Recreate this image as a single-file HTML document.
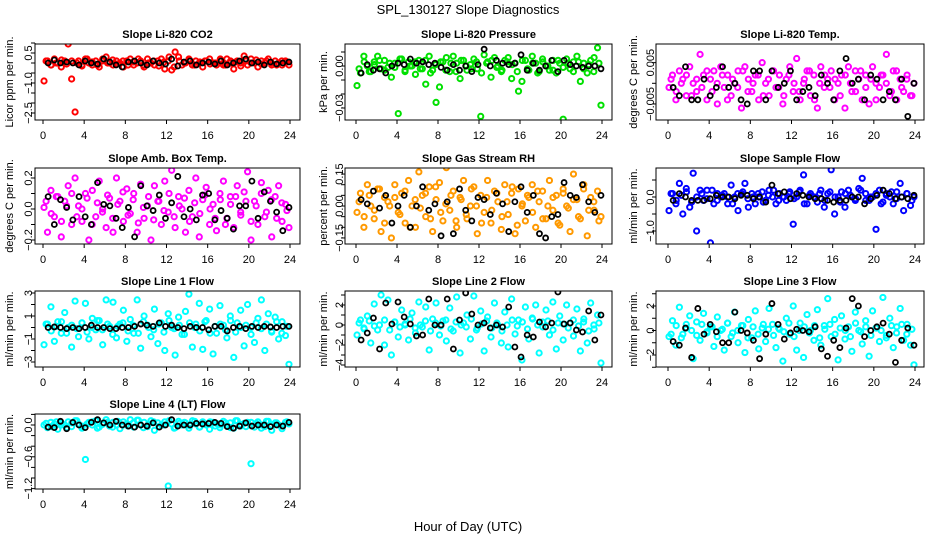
<!DOCTYPE html>
<html><head><meta charset="utf-8">
<style>
html,body{margin:0;padding:0;background:#fff;}
svg{display:block;font-family:"Liberation Sans",sans-serif;}
</style></head>
<body>
<svg id="chart" width="936" height="540" viewBox="0 0 936 540">
<rect x="0" y="0" width="936" height="540" fill="#fff"/>
<text x="468" y="14" text-anchor="middle" font-size="13">SPL_130127  Slope Diagnostics</text>
<text x="468" y="531" text-anchor="middle" font-size="13">Hour of Day (UTC)</text>
</svg>
<script>
// ---- data: hours and series values per panel ----
const hourTicks = [0,4,8,12,16,20,24];
const co2Color = [-0.9,0.1,-0.1,0.2,0.0,-0.2,0.1,0.95,-0.8,-2.45,0.1,-0.1,0.2,0.0,-0.1,0.1,-0.2,0.2,0.3,0.0,-0.1,0.1,0.0,-0.2,0.1,0.2,-0.1,0.0,0.1,-0.2,0.2,0.0,-0.1,0.1,0.2,-0.3,0.1,-0.35,0.55,0.3,-0.1,0.0,0.2,-0.1,0.1,0.0,-0.2,0.1,0.2,0.0,-0.1,0.1,-0.1,0.2,0.0,-0.3,0.1,0.0,0.35,-0.1,0.2,0.0,-0.2,0.1,0.0,0.2,-0.1,0.1,0.0,-0.1,0.1,-0.1];
const co2Band = [0.1,-0.1,0.0,0.15,-0.05,0.1,0.0,-0.15,0.2,0.05,-0.1,0.1,0.0,0.15,-0.05,0.1,-0.1,0.05,0.2,-0.1,0.0,0.1,-0.15,0.05,0.3,-0.2,0.1,0.0,0.15,-0.1,0.05,0.1,-0.05,0.0,0.2,-0.1,0.1,0.05,-0.15,0.1,0.0,0.15,-0.05,0.1,0.0,-0.1,0.1,0.05];
const co2Black = [0.0,0.15,0.0,0.05,0.0,-0.1,0.1,0.0,-0.05,0.2,0.05,-0.1,-0.2,0.05,0.1,0.0,-0.1,0.1,0.0,-0.05,0.2,-0.15,0.05,0.1,-0.1,0.0,0.05,-0.05,0.1,-0.1,0.0,0.1,0.2,0.0,0.05,-0.1,0.05,-0.05,0.0,0.05];
const presColor = [-0.014,-0.005,0.007,0.0,-0.004,0.003,0.007,-0.002,0.004,-0.001,-0.008,0.002,-0.034,0.005,-0.003,0.003,0.0,-0.006,0.004,-0.002,-0.013,0.007,-0.003,-0.026,-0.015,0.003,0.006,-0.004,0.007,0.002,-0.009,0.004,-0.003,0.001,0.005,-0.002,-0.036,0.008,0.003,-0.008,0.006,0.0,-0.004,0.004,0.006,-0.009,0.002,-0.018,-0.011,0.004,-0.003,0.007,0.002,-0.004,0.005,0.0,-0.003,0.004,-0.005,0.002,-0.038,0.005,-0.002,0.003,0.007,-0.011,0.002,-0.005,0.004,0.006,0.013,-0.028];
const presBand = [-0.002,0.003,-0.004,0.001,0.004,-0.003,0.002,-0.001,0.005,-0.004,0.0,0.003,-0.002,0.004,-0.005,0.001,0.003,-0.003,0.002,-0.004,0.004,0.0,-0.002,0.003,-0.005,0.002,0.004,-0.001,-0.003,0.003,0.001,-0.004,0.004,-0.002,0.002,-0.005,0.003,0.0,-0.003,0.004,-0.001,0.002,-0.004,0.003,-0.002,0.001,-0.004,0.002];
const presBlack = [-0.005,0.001,-0.003,-0.002,-0.005,0.0,0.002,0.001,0.005,0.002,0.003,0.001,0.002,-0.001,-0.003,0.001,-0.003,0.0,-0.004,0.001,0.012,0.0,0.004,0.002,0.001,0.002,0.008,-0.003,0.002,-0.003,0.0,0.004,-0.004,0.004,0.001,0.0,-0.001,0.0,0.0,-0.002];
const liTempColor = [-0.001,0.002,-0.004,0.003,0.001,-0.003,0.004,0.0,-0.002,0.007,0.002,-0.004,0.001,0.003,-0.005,0.004,-0.001,0.002,-0.003,0.0,0.003,-0.006,0.004,0.001,-0.002,0.002,-0.004,0.005,0.0,-0.003,0.003,-0.001,0.002,-0.005,0.001,0.004,-0.002,0.006,-0.004,0.0,0.003,-0.003,0.002,-0.006,0.004,-0.001,0.001,0.003,-0.004,0.0,0.002,-0.006,0.004,-0.002,0.003,0.001,-0.004,0.002,-0.005,0.004,0.0,-0.001,0.002,0.007,-0.003,0.003,-0.004,0.001,-0.002,0.002,-0.003,0.0];
const liTempBand = [0.001,-0.002,0.0,0.002,-0.003,0.001,-0.001,0.003,-0.002,0.0,0.002,-0.004,0.001,-0.001,0.003,-0.002,0.0,0.002,-0.003,0.001,0.003,-0.001,-0.003,0.002,0.0,-0.002,0.001,0.003,-0.004,0.0,0.002,-0.001,0.001,-0.003,0.002,0.0,-0.002,0.003,-0.001,0.001,-0.004,0.002,0.0,-0.002,0.003,-0.001,0.001,-0.003];
const liTempBlack = [-0.001,-0.003,0.004,-0.004,-0.004,0.001,-0.003,-0.001,0.004,-0.001,0.0,-0.004,-0.005,0.003,0.003,-0.004,0.003,-0.001,0.0,0.003,-0.004,-0.002,-0.001,-0.003,0.002,0.0,-0.004,0.003,0.006,0.0,0.001,-0.004,0.002,0.001,-0.004,-0.002,-0.004,0.001,-0.008,0.0];
const boxTempColor = [0.01,-0.15,0.12,-0.05,0.08,-0.18,0.05,0.15,-0.1,0.2,0.02,-0.08,0.1,-0.2,0.12,-0.05,0.18,0.0,-0.12,0.07,-0.15,0.2,0.05,-0.08,0.13,-0.03,0.1,-0.15,0.16,-0.06,0.02,-0.2,0.15,0.05,-0.1,0.18,-0.02,0.25,-0.12,0.08,0.0,-0.15,0.12,-0.05,0.2,-0.18,0.06,0.14,-0.1,0.03,-0.14,0.1,0.18,-0.06,0.08,-0.12,0.15,-0.02,0.11,0.24,-0.2,0.05,-0.1,0.17,-0.05,0.12,-0.18,0.08,0.15,-0.08,0.03,-0.12];
const boxTempBand = [0.05,-0.03,0.08,-0.08,0.02,0.1,-0.05,0.0,0.07,-0.1,0.04,-0.02,0.09,-0.06,0.03,0.11,-0.04,0.06,-0.09,0.01,0.08,-0.07,0.05,-0.01,0.1,-0.05,0.02,0.07,-0.08,0.04,-0.03,0.09,0.0,-0.06,0.06,-0.1,0.03,0.08,-0.04,0.05,-0.08,0.02,0.1,-0.02,0.06,-0.06,0.04,-0.01];
const boxTempBlack = [0.08,-0.1,0.06,0.01,-0.07,0.08,-0.05,-0.1,0.17,0.03,0.02,-0.06,-0.12,0.01,-0.18,0.15,0.02,-0.01,0.09,-0.06,0.04,0.21,-0.05,0.0,-0.07,0.09,0.1,-0.07,-0.01,-0.06,-0.13,0.02,0.02,0.18,-0.06,0.11,0.05,-0.02,-0.14,0.01];
const rhColor = [-0.03,0.06,-0.1,0.1,0.0,-0.06,0.08,-0.12,0.04,0.02,-0.15,0.1,-0.03,0.06,-0.08,0.12,0.0,-0.1,0.16,0.05,-0.05,0.09,-0.12,0.03,0.11,-0.07,0.18,-0.02,0.07,-0.1,0.04,0.12,-0.06,0.0,0.09,-0.13,0.05,-0.03,0.12,-0.08,0.07,0.02,-0.11,0.1,-0.04,0.06,-0.13,0.08,0.0,-0.07,0.04,0.1,-0.1,0.02,0.07,-0.06,0.12,-0.02,0.05,-0.09,0.08,0.0,-0.12,0.15,0.03,-0.06,0.1,-0.14,0.04,-0.02,0.07,-0.05];
const rhBand = [0.02,-0.05,0.05,-0.02,0.08,-0.08,0.0,0.04,-0.04,0.07,-0.1,0.03,-0.01,0.06,-0.06,0.09,-0.03,0.01,0.05,-0.07,0.03,-0.04,0.08,0.0,-0.08,0.04,-0.02,0.06,-0.05,0.02,0.09,-0.09,0.01,0.05,-0.03,0.07,-0.06,0.0,0.04,-0.08,0.06,-0.01,0.03,-0.05,0.08,-0.02,0.02,-0.07];
const rhBlack = [0.03,0.01,0.07,-0.01,0.05,-0.08,0.0,0.05,-0.1,0.0,0.09,-0.02,0.01,-0.14,0.02,-0.13,0.08,-0.02,-0.07,0.04,0.03,-0.04,0.06,0.01,-0.12,0.02,0.09,-0.03,0.05,-0.13,-0.15,-0.05,-0.04,0.11,0.05,0.04,0.1,0.02,-0.03,0.05];
const sampleColor = [-0.4,0.1,-0.2,0.4,-0.5,0.25,-0.3,0.7,-1.0,0.2,-0.1,0.2,-1.35,-0.2,0.1,0.0,0.1,-0.2,0.35,0.0,-0.4,0.1,0.4,-0.3,0.1,-0.2,0.0,0.15,-0.1,0.2,0.0,-0.2,0.1,0.0,-0.1,0.15,-0.8,0.0,0.2,0.65,-0.2,0.1,0.0,-0.15,0.2,-0.3,0.1,0.8,-0.5,0.0,0.15,-0.3,0.2,0.0,-0.1,0.25,0.55,0.1,-0.1,0.0,-0.95,0.2,-0.15,0.1,0.0,-0.2,0.15,0.4,-0.4,0.1,-0.25,0.0];
const sampleBand = [0.1,-0.1,0.05,0.15,-0.15,0.0,0.1,-0.05,0.2,-0.1,0.05,0.0,-0.2,0.1,0.15,-0.05,0.0,0.1,-0.15,0.05,0.2,-0.1,0.0,0.1,-0.05,0.15,-0.2,0.05,0.0,0.1,-0.1,0.15,0.0,-0.15,0.1,0.05,-0.05,0.2,-0.1,0.0,0.1,-0.2,0.05,0.15,-0.05,0.0,0.1,-0.1];
const sampleBlack = [-0.1,0.1,0.0,-0.1,-0.1,-0.1,-0.05,0.05,0.0,0.0,-0.05,0.05,0.05,-0.05,0.0,-0.15,0.35,0.1,0.15,-0.05,0.1,0.05,0.0,-0.05,-0.05,-0.1,-0.15,-0.1,-0.1,0.0,0.0,-0.2,-0.05,0.05,0.2,0.1,-0.05,0.0,-0.05,0.05];
const line1Color = [-1.5,0.3,1.8,-1.2,0.5,-0.5,1.3,0.0,-1.7,2.3,-0.8,0.4,2.1,-1.0,0.8,-0.2,0.6,-1.5,2.4,0.1,2.2,-0.9,0.3,1.5,-1.2,0.7,-0.5,2.4,-1.8,1.0,0.2,-0.8,1.6,-1.4,0.4,-2.0,1.2,0.0,-2.4,0.9,-0.6,1.4,2.9,-1.7,0.3,2.1,-1.9,0.6,1.6,-2.3,-0.5,1.9,0.2,-0.9,1.0,-2.6,0.4,1.5,-1.6,2.0,0.0,-1.3,0.8,2.4,-2.0,1.2,-0.4,0.9,-1.0,0.5,-0.7,-3.2];
const line1Band = [0.3,-0.3,0.1,0.5,-0.5,0.2,-0.1,0.4,-0.4,0.0,0.6,-0.2,0.3,-0.6,0.1,0.4,-0.3,0.2,-0.5,0.5,0.0,-0.2,0.3,-0.4,0.6,-0.1,0.2,-0.6,0.4,0.0,-0.3,0.5,-0.5,0.1,0.3,-0.2,0.6,-0.4,0.0,0.2,-0.6,0.4,-0.1,0.3,-0.3,0.5,-0.5,0.1];
const line1Black = [0.0,0.05,0.0,-0.1,0.0,-0.1,0.0,0.2,0.0,0.0,-0.1,-0.1,0.0,0.0,0.1,0.3,0.2,0.1,0.4,0.1,0.2,0.0,-0.1,0.1,0.0,0.0,-0.2,0.1,0.1,-0.3,0.0,0.1,-0.1,0.1,0.0,0.1,0.05,0.0,0.1,0.1];
const line2Color = [-1.0,0.5,-0.3,0.9,-1.8,2.1,-0.5,3.0,-2.0,2.5,-3.0,0.3,-1.2,1.5,0.0,-1.5,1.2,-0.8,2.3,-0.2,1.8,-2.5,0.6,2.2,-1.0,0.4,-1.6,1.7,-0.6,2.8,-2.8,0.2,1.0,-1.4,2.9,-0.3,1.4,-2.6,0.8,-1.2,2.2,0.0,-1.8,1.3,-2.2,2.6,-0.9,0.5,-3.5,1.8,-1.4,0.7,2.0,-2.8,0.3,1.5,-1.0,2.3,-2.4,0.9,-1.5,2.0,0.2,-1.1,1.6,-2.6,0.6,-1.8,2.2,-0.4,1.0,-3.8];
const line2Band = [0.2,-0.4,0.4,-0.1,0.0,0.5,-0.5,0.3,-0.2,0.1,0.6,-0.3,0.0,0.4,-0.6,0.2,-0.1,0.5,-0.4,0.3,0.0,-0.2,0.6,-0.5,0.1,0.4,-0.3,0.2,-0.6,0.0,0.5,-0.1,0.3,-0.4,0.6,0.0,-0.2,0.4,-0.5,0.2,0.1,-0.3,0.5,-0.1,0.3,-0.6,0.0,0.2];
const line2Black = [-1.5,-0.8,0.7,-2.4,2.2,0.1,2.3,0.8,0.1,-1.1,-1.0,2.6,0.0,0.0,2.6,-2.4,0.5,3.2,1.1,0.0,0.2,-0.3,0.0,-0.2,1.8,-2.2,-3.2,-1.0,-1.2,0.3,-0.2,0.2,3.3,0.1,0.2,-0.5,-0.7,1.4,-1.5,1.0];
const line3Color = [-0.5,0.8,-1.2,1.9,-0.3,0.5,1.2,-2.3,0.7,-0.8,1.4,-0.2,0.3,-1.3,1.1,0.0,-1.6,0.6,-0.5,1.5,-1.0,0.4,-1.8,0.9,-0.6,1.6,-1.5,0.2,-0.9,1.8,0.5,-1.4,0.1,-2.5,1.0,-0.3,2.0,-1.6,0.6,-2.2,1.3,0.0,-0.8,1.7,-1.2,0.4,2.6,-0.5,0.9,-2.4,1.2,-0.7,0.3,-1.7,1.5,0.0,-1.1,0.8,-2.1,1.6,0.2,-0.9,2.7,-0.4,1.0,-1.4,0.3,1.8,-0.8,0.5,-1.2,-2.8];
const line3Band = [-0.3,0.4,-0.6,0.2,0.0,-0.4,0.5,-0.1,0.3,-0.5,0.1,0.6,-0.2,0.0,0.4,-0.6,0.3,-0.3,0.5,0.1,-0.4,0.2,-0.1,0.6,-0.5,0.0,0.3,-0.2,0.4,-0.6,0.1,0.5,-0.3,0.2,0.0,-0.5,0.6,-0.1,0.3,-0.4,0.2,0.0,-0.6,0.4,-0.2,0.5,-0.3,0.1];
const line3Black = [-0.9,-1.2,0.2,-2.2,1.8,-0.3,0.5,-0.1,-1.0,-1.0,1.5,0.0,-0.2,-0.8,-2.3,-0.3,2.2,0.5,-0.7,-0.2,0.1,0.0,-0.1,0.3,-1.5,-2.1,-0.8,-1.4,0.2,2.6,2.0,-0.5,0.0,0.3,0.6,-0.3,-2.6,-0.8,0.2,-1.2];
const line4Color = [0.0,-0.05,0.05,0.02,-0.08,0.04,0.0,0.06,-0.03,0.08,0.02,-0.06,-0.65,0.05,0.0,0.08,-0.04,0.03,0.1,-0.02,0.05,0.0,-0.07,0.06,0.02,0.1,-0.04,0.09,0.0,0.05,-0.03,0.08,-0.1,0.04,0.0,0.06,-1.15,0.02,-0.05,0.07,0.0,0.04,-0.06,0.08,0.02,-0.04,0.06,0.0,-0.08,0.05,0.03,-0.05,0.07,0.0,0.04,-0.06,0.08,-0.02,0.03,0.05,-0.73,-0.04,0.06,0.0,-0.03,0.07,-0.1,0.04,0.0,-0.07,0.05,0.02];
const line4Band = [0.03,-0.03,0.06,0.0,-0.05,0.04,0.08,-0.02,0.02,0.06,-0.06,0.01,0.05,-0.04,0.07,0.0,-0.02,0.04,0.09,-0.05,0.02,0.06,-0.03,0.0,0.08,-0.06,0.03,0.05,-0.01,0.07,-0.04,0.02,0.06,-0.02,0.0,0.04,-0.05,0.08,0.01,-0.03,0.05,0.03,-0.06,0.07,0.0,0.04,-0.02,0.06];
const line4Black = [-0.04,-0.05,0.07,-0.07,0.05,0.0,-0.05,0.05,0.1,0.04,0.0,0.07,0.0,-0.02,-0.04,0.0,-0.02,0.04,-0.04,0.0,0.1,-0.02,0.0,0.0,0.03,0.02,0.03,0.05,0.03,-0.03,-0.06,-0.02,0.04,-0.02,0.0,0.0,-0.03,0.0,-0.02,0.05];

// ---- layout ----
const cols = [{l:35,r:300,x0:43,x24:290,lab:9,tl:28},{l:345,r:612,x0:356,x24:602,lab:323,tl:339},{l:656,r:924,x0:668,x24:915,lab:633,tl:650}];
const rows = [{t:44,b:120},{t:168,b:244},{t:291,b:367},{t:414,b:489}];
const panels = [
 {name:'co2',title:'Slope Li-820 CO2',ylab:'Licor ppm per min.',col:0,row:0,y0:0.5,yp:53,ppu:20,ticks:[1,0.5,0,-0.5,-1,-1.5,-2,-2.5],labels:[[0.5,'0.5'],[-1,'−1.0'],[-2.5,'−2.5']],color:'#ff0000',c:co2Color,b:co2Band,k:co2Black},
 {name:'pressure',title:'Slope Li-820 Pressure',ylab:'kPa per min.',col:1,row:0,y0:0,yp:66,ppu:1400,ticks:[0.01,0,-0.01,-0.02,-0.03],labels:[[0,'0.00'],[-0.03,'−0.03']],color:'#00e000',c:presColor,b:presBand,k:presBlack},
 {name:'li-temp',title:'Slope Li-820 Temp.',ylab:'degrees C per min.',col:2,row:0,y0:0,yp:83.3,ppu:4130,ticks:[0.005,0,-0.005],labels:[[0.005,'0.005'],[-0.005,'−0.005']],color:'#ff00ff',c:liTempColor,b:liTempBand,k:liTempBlack},
 {name:'box-temp',title:'Slope Amb. Box Temp.',ylab:'degrees C per min.',col:0,row:1,y0:0,yp:209,ppu:155,ticks:[0.2,0.1,0,-0.1,-0.2],labels:[[0.2,'0.2'],[0,'0.0'],[-0.2,'−0.2']],color:'#ff00ff',c:boxTempColor,b:boxTempBand,k:boxTempBlack},
 {name:'gas-rh',title:'Slope Gas Stream RH',ylab:'percent per min.',col:1,row:1,y0:0,yp:206,ppu:213,ticks:[0.15,0.1,0.05,0,-0.05,-0.1,-0.15],labels:[[0.15,'0.15'],[0,'0.00'],[-0.15,'−0.15']],color:'#ff9900',c:rhColor,b:rhBand,k:rhBlack},
 {name:'sample-flow',title:'Slope Sample Flow',ylab:'ml/min per min.',col:2,row:1,y0:0,yp:197,ppu:34,ticks:[0.5,0,-0.5,-1],labels:[[0,'0.0'],[-1,'−1.0']],color:'#0000ff',c:sampleColor,b:sampleBand,k:sampleBlack},
 {name:'line1-flow',title:'Slope Line 1 Flow',ylab:'ml/min per min.',col:0,row:2,y0:0,yp:327.5,ppu:11.5,ticks:[3,2,1,0,-1,-2,-3],labels:[[3,'3'],[1,'1'],[-1,'−1'],[-3,'−3']],color:'#00ffff',c:line1Color,b:line1Band,k:line1Black},
 {name:'line2-flow',title:'Slope Line 2 Flow',ylab:'ml/min per min.',col:1,row:2,y0:0,yp:325,ppu:10,ticks:[3,2,1,0,-1,-2,-3,-4],labels:[[2,'2'],[0,'0'],[-2,'−2'],[-4,'−4']],color:'#00ffff',c:line2Color,b:line2Band,k:line2Black},
 {name:'line3-flow',title:'Slope Line 3 Flow',ylab:'ml/min per min.',col:2,row:2,y0:0,yp:330.5,ppu:12.25,ticks:[3,2,1,0,-1,-2,-3],labels:[[2,'2'],[0,'0'],[-2,'−2']],color:'#00ffff',c:line3Color,b:line3Band,k:line3Black},
 {name:'line4-flow',title:'Slope Line 4 (LT) Flow',ylab:'ml/min per min.',col:0,row:3,y0:0,yp:425,ppu:53,ticks:[0.2,0,-0.2,-0.4,-0.6,-0.8,-1,-1.2],labels:[[0,'0.0'],[-0.6,'−0.6'],[-1.2,'−1.2']],color:'#00ffff',c:line4Color,b:line4Band,k:line4Black}
];

const svg = document.getElementById('chart');
const NS = 'http://www.w3.org/2000/svg';
function mk(tag, attrs, parent){
  const e = document.createElementNS(NS, tag);
  for (const a in attrs) e.setAttribute(a, attrs[a]);
  (parent||svg).appendChild(e);
  return e;
}

panels.forEach(p => {
  const C = cols[p.col], R = rows[p.row];
  const xs = h => C.x0 + (C.x24 - C.x0) * h / 24;
  const ys = v => p.yp - (v - p.y0) * p.ppu;
  const g = mk('g', {});
  
  
  const clipId = 'clip-' + p.name;
  const cp = mk('clipPath', {id: clipId}, g);
  mk('rect', {x:C.l, y:R.t, width:C.r-C.l, height:R.b-R.t}, cp);

  const title = mk('text', {x:(C.l+C.r)/2, y:R.t-6, 'text-anchor':'middle', 'font-size':11, 'font-weight':'bold'}, g);
  title.textContent = p.title;
  
  

  const yl = mk('text', {x:0, y:0, 'text-anchor':'middle', 'font-size':11, transform:`translate(${C.lab+4},${(R.t+R.b)/2}) rotate(-90)`}, g);
  yl.textContent = p.ylab;
  
  

  // points
  const pts = mk('g', {'clip-path':`url(#${clipId})`}, g);
  
  
  const nB = p.b.length;
  p.b.forEach((v, i) => {
    const h = 0.3 + i * 23.4 / (nB - 1);
    const el = mk('circle', {cx:xs(h), cy:ys(v), r:2.6, fill:'none', stroke:p.color, 'stroke-width':2}, pts);
    
    
  });
  const nC = p.c.length;
  p.c.forEach((v, i) => {
    const h = 0.1 + i * 23.8 / (nC - 1);
    const el = mk('circle', {cx:xs(h), cy:ys(v), r:2.6, fill:'none', stroke:p.color, 'stroke-width':2}, pts);
    
    
  });
  const nK = p.k.length;
  p.k.forEach((v, i) => {
    const h = 0.5 + i * 23.4 / (nK - 1);
    const el = mk('circle', {cx:xs(h), cy:ys(v), r:2.5, fill:'none', stroke:'#000', 'stroke-width':1.8}, pts);
    
    
  });

  const box = mk('rect', {x:C.l, y:R.t, width:C.r-C.l, height:R.b-R.t, fill:'none', stroke:'#000', 'stroke-width':1}, g);
  
  

  // x axis
  const xa = mk('g', {}, g);
  
  
  mk('line', {x1:xs(0), x2:xs(24), y1:R.b, y2:R.b, stroke:'#000'}, xa);
  hourTicks.forEach(h => {
    const tk = mk('line', {x1:xs(h), x2:xs(h), y1:R.b, y2:R.b+4, stroke:'#000'}, xa);
    
    
    const tl = mk('text', {x:xs(h), y:R.b+19, 'text-anchor':'middle', 'font-size':11}, xa);
    tl.textContent = h;
    
    
  });

  // y axis
  const ya = mk('g', {}, g);
  
  
  const tv = p.ticks.map(ys);
  mk('line', {x1:C.l, x2:C.l, y1:Math.min(...tv), y2:Math.max(...tv), stroke:'#000'}, ya);
  p.ticks.forEach(t => {
    const tk = mk('line', {x1:C.l-4, x2:C.l, y1:ys(t), y2:ys(t), stroke:'#000'}, ya);
    
    
  });
  p.labels.forEach(([v, s]) => {
    const tl = mk('text', {x:0, y:0, 'text-anchor':'middle', 'font-size':11, transform:`translate(${C.tl+4},${ys(v)}) rotate(-90)`}, ya);
    tl.textContent = s;
    
    
  });
});
</script>
</body></html>
